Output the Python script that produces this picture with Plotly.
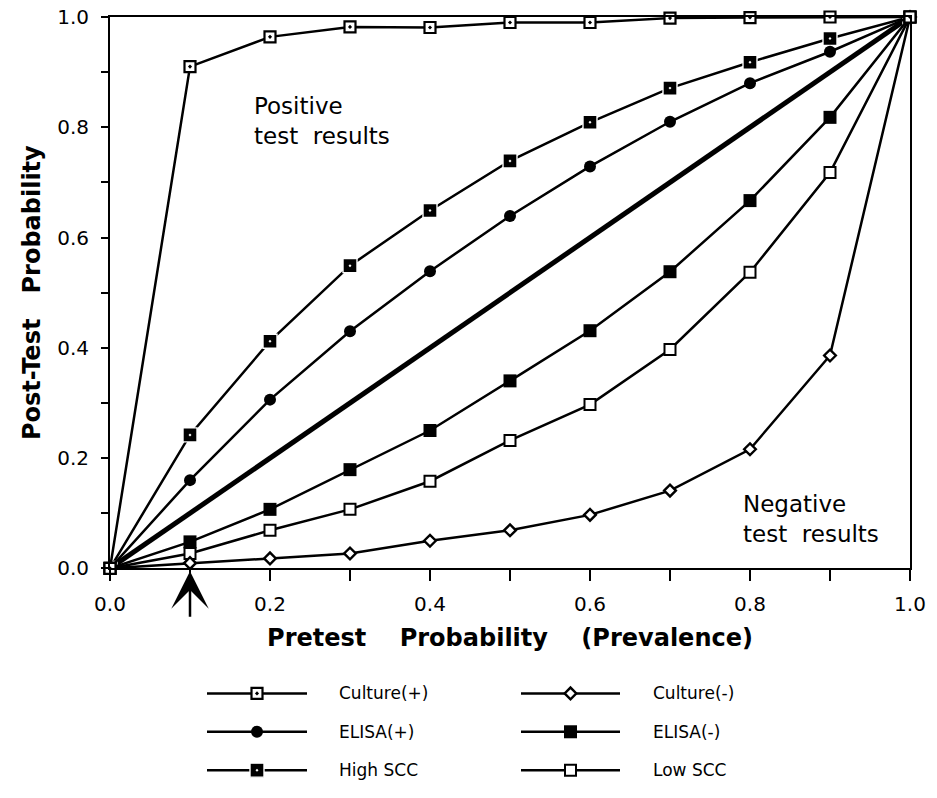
import plotly.graph_objects as go

# ---- data ----
prevalence = [0.0, 0.1, 0.2, 0.3, 0.4, 0.5, 0.6, 0.7, 0.8, 0.9, 1.0]
culture_pos = [0.0, 0.91, 0.964, 0.982, 0.981, 0.99, 0.99, 0.998, 0.999, 1.0, 1.0]
elisa_pos = [0.0, 0.16, 0.306, 0.43, 0.539, 0.639, 0.729, 0.81, 0.88, 0.937, 1.0]
high_scc = [0.0, 0.242, 0.412, 0.549, 0.649, 0.739, 0.809, 0.871, 0.918, 0.961, 1.0]
culture_neg = [0.0, 0.0095, 0.018, 0.027, 0.05, 0.069, 0.097, 0.141, 0.216, 0.386, 1.0]
elisa_neg = [0.0, 0.048, 0.107, 0.179, 0.25, 0.34, 0.431, 0.538, 0.667, 0.818, 1.0]
low_scc = [0.0, 0.027, 0.069, 0.107, 0.158, 0.232, 0.297, 0.397, 0.537, 0.718, 1.0]
identity_x = [0.0, 1.0]
identity_y = [0.0, 1.0]

tick_vals = [0.0, 0.1, 0.2, 0.3, 0.4, 0.5, 0.6, 0.7, 0.8, 0.9, 1.0]
tick_text = ["0.0", "", "0.2", "", "0.4", "", "0.6", "", "0.8", "", "1.0"]

FONT = "DejaVu Sans"
GAP = "\u00a0 \u00a0 "  # wide word gap as in the original typesetting
GAP_Y = "\u00a0 \u00a0"

# marker styles
styles = {
    "Culture(+)": dict(symbol="square-dot", size=11, color="white", line=dict(color="black", width=2.2)),
    "ELISA(+)": dict(symbol="circle", size=12, color="black", line=dict(color="black", width=0)),
    "High SCC": dict(symbol="square-dot", size=14, color="black", line=dict(color="white", width=1.4)),
    "Culture(-)": dict(symbol="diamond", size=9, color="white", line=dict(color="black", width=2.4)),
    "ELISA(-)": dict(symbol="square", size=13, color="black", line=dict(color="black", width=0)),
    "Low SCC": dict(symbol="square", size=11, color="white", line=dict(color="black", width=2)),
}
series = [
    ("High SCC", high_scc),
    ("ELISA(+)", elisa_pos),
    ("ELISA(-)", elisa_neg),
    ("Low SCC", low_scc),
    ("Culture(-)", culture_neg),
    ("Culture(+)", culture_pos),
]

fig = go.Figure()
fig.add_trace(go.Scatter(x=identity_x, y=identity_y, mode="lines",
                         line=dict(color="black", width=5), showlegend=False, hoverinfo="skip"))
for name, vals in series:
    fig.add_trace(go.Scatter(x=prevalence, y=vals, mode="lines+markers", name=name,
                             line=dict(color="black", width=2.5),
                             marker=styles[name], cliponaxis=False, showlegend=False))

# ---- custom legend (pixel-like coordinates on a hidden axis pair) ----
legend_cols = [
    ["Culture(+)", "ELISA(+)", "High SCC"],
    ["Culture(-)", "ELISA(-)", "Low SCC"],
]
col_line_start = [207, 521]
col_line_end = [307, 620]
col_text_x = [337, 651]
row_y = [704, 743, 782]

annotations = []
for ci, names in enumerate(legend_cols):
    for ri, name in enumerate(names):
        y = row_y[ri]
        x0, x1 = col_line_start[ci], col_line_end[ci]
        fig.add_trace(go.Scatter(x=[x0, x1], y=[y, y], mode="lines", xaxis="x2", yaxis="y2",
                                 line=dict(color="black", width=2.5), showlegend=False,
                                 hoverinfo="skip", cliponaxis=False))
        fig.add_trace(go.Scatter(x=[(x0 + x1) / 2], y=[y], mode="markers", xaxis="x2", yaxis="y2",
                                 marker=styles[name], showlegend=False, hoverinfo="skip",
                                 cliponaxis=False))
        annotations.append(dict(x=col_text_x[ci], y=y, xref="x2", yref="y2", text=name,
                                showarrow=False, xanchor="left", yanchor="middle",
                                font=dict(family=FONT, size=17, color="black")))

annotations.append(dict(x=0.1775, y=0.811, xref="x", yref="y",
                        text="Positive<br>test\u00a0 results", showarrow=False,
                        xanchor="left", yanchor="middle", align="left",
                        font=dict(family=FONT, size=23, color="black")))
annotations.append(dict(x=0.789, y=0.089, xref="x", yref="y",
                        text="Negative<br>test\u00a0 results", showarrow=False,
                        xanchor="left", yanchor="middle", align="left",
                        font=dict(family=FONT, size=23, color="black")))
annotations.append(dict(x=0.1, y=0.0, xref="x", yref="y", text="", showarrow=True,
                        ax=0, ay=50, arrowhead=3, arrowwidth=2.5, arrowsize=2.5,
                        arrowcolor="black", standoff=3))

plot_h = 798 - 17 - 5
axis_common = dict(range=[0, 1], showline=True, linewidth=2, linecolor="black", mirror=True,
                   ticks="outside", tickwidth=2, tickcolor="black", showgrid=False,
                   zeroline=False, tickvals=tick_vals, ticktext=tick_text,
                   tickfont=dict(family=FONT, size=20, color="black"))

fig.update_layout(
    width=937, height=798,
    margin=dict(l=110, r=27, t=17, b=5),
    paper_bgcolor="white", plot_bgcolor="white",
    showlegend=False,
    xaxis=dict(axis_common, domain=[0, 1], anchor="y", ticklen=11, ticklabelstandoff=6,
               title=dict(text="Pretest" + GAP + "Probability" + GAP + "(Prevalence)", standoff=14,
                          font=dict(family=FONT, size=24, color="black", weight="bold"))),
    yaxis=dict(axis_common, domain=[(798 - 5 - 577) / plot_h, 1], anchor="x", ticklen=7,
               ticklabelstandoff=8,
               title=dict(text="Post-Test" + GAP_Y + "Probability", standoff=10,
                          font=dict(family=FONT, size=24, color="black", weight="bold"))),
    xaxis2=dict(domain=[0, 1], range=[110, 910], anchor="y2", visible=False),
    yaxis2=dict(domain=[0, 0.17], range=[793, 793 - 0.17 * plot_h], anchor="x2", visible=False),
    annotations=annotations,
)

fig.write_html("out.html")
